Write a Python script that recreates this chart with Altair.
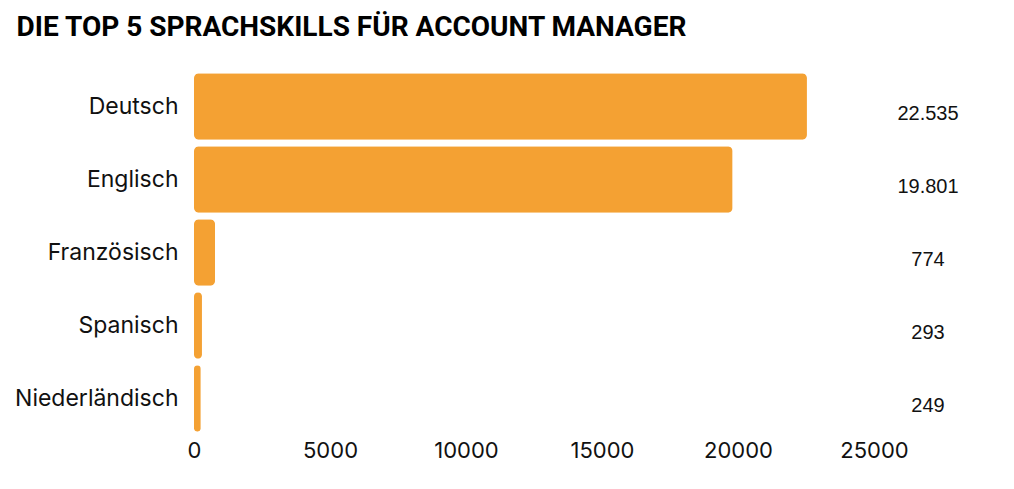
import altair as alt
import pandas as pd

languages = ["Deutsch", "Englisch", "Französisch", "Spanisch", "Niederländisch"]
counts = [22535, 19801, 774, 293, 249]
count_labels = ["22.535", "19.801", "774", "293", "249"]
x_ticks = [0, 5000, 10000, 15000, 20000, 25000]

df = pd.DataFrame({"Sprache": languages, "Anzahl": counts, "Label": count_labels})

y_enc = alt.Y(
    "Sprache:N",
    sort=languages,
    title=None,
    scale=alt.Scale(paddingInner=0.09, paddingOuter=0.045),
    axis=alt.Axis(
        domain=False, ticks=False, labelFont="Inter", labelFontSize=23,
        labelColor="#111111", labelPadding=16,
    ),
)

bars = alt.Chart(df).mark_bar(color="#F4A133", cornerRadius=5).encode(
    x=alt.X(
        "Anzahl:Q",
        title=None,
        scale=alt.Scale(domain=[0, 25000], nice=False),
        axis=alt.Axis(
            values=x_ticks, domain=False, ticks=False, grid=False,
            labelFont="Inter", labelFontSize=22, labelColor="#111111",
            labelPadding=5, format="d", labelFlush=False,
        ),
    ),
    y=y_enc,
)

texts = alt.Chart(df).mark_text(
    font="Liberation Sans", fontSize=20, color="#111111", align="center", dy=7
).encode(
    x=alt.value(734),
    y=alt.Y("Sprache:N", sort=languages),
    text="Label:N",
)

chart = (
    alt.layer(bars, texts)
    .properties(
        width=680,
        height=365,
        padding={"left": 6, "top": 6, "right": 5, "bottom": 5},
        title=alt.TitleParams(
            "DIE TOP 5 SPRACHSKILLS FÜR ACCOUNT MANAGER",
            anchor="start", frame="bounds", font="Roboto", fontSize=28,
            fontWeight="bold", color="#000000", offset=28, dx=2,
        ),
    )
    .configure_view(strokeWidth=0, stroke="transparent")
)

chart.save("out.html", embed_options={"renderer": "svg", "actions": False})
